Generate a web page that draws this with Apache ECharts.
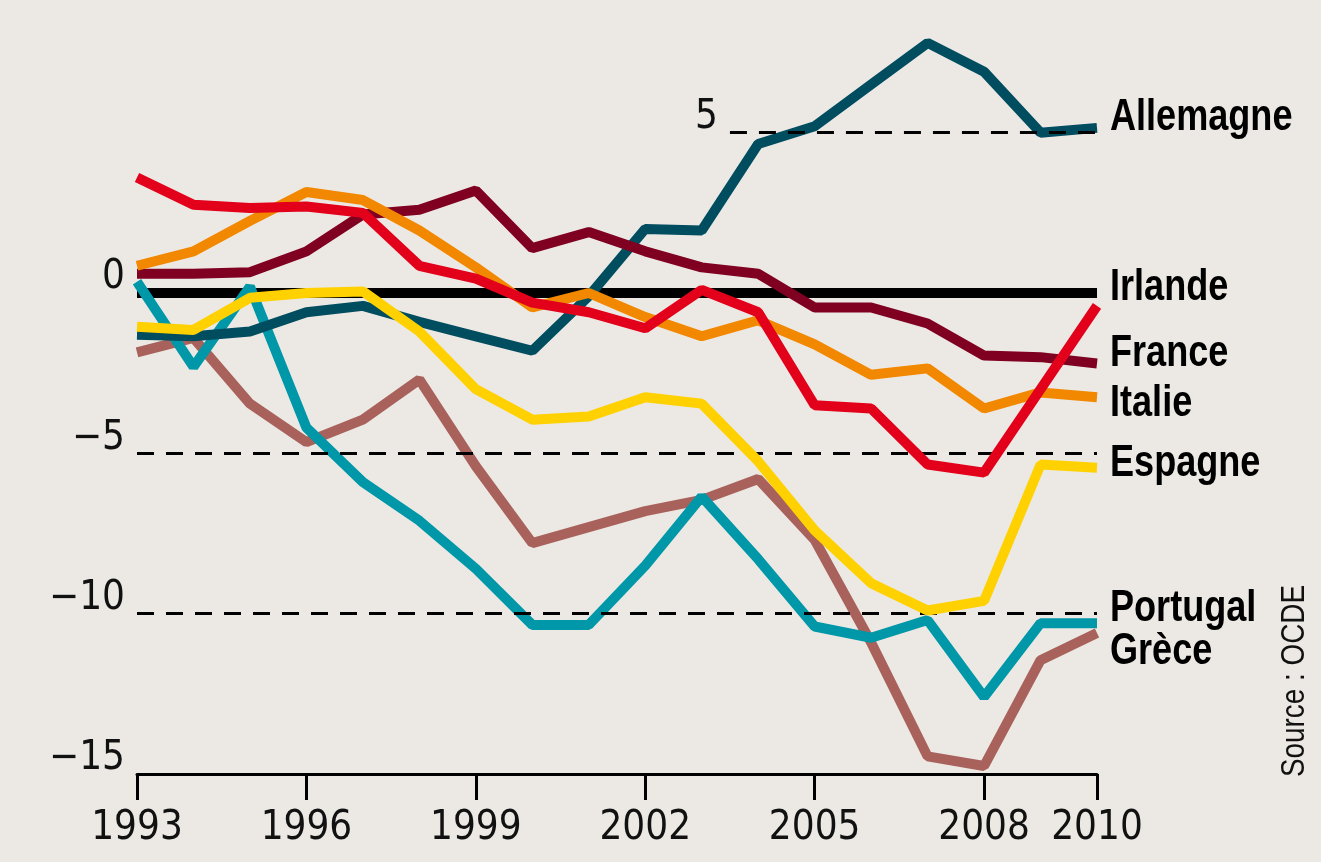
<!DOCTYPE html>
<html>
<head>
<meta charset="utf-8">
<title>Balance courante</title>
<script src="https://cdn.jsdelivr.net/npm/echarts@6/dist/echarts.min.js"></script>
<style>
  html, body { margin: 0; padding: 0; background: #ece9e4; }
  #chart { width: 1321px; height: 862px; }
</style>
</head>
<body>
<div id="chart"></div>
<script>
var years = [1993, 1994, 1995, 1996, 1997, 1998, 1999, 2000, 2001, 2002, 2003, 2004, 2005, 2006, 2007, 2008, 2009, 2010];

// solde courant, en % du PIB
var allemagne = [-1.3, -1.35, -1.2, -0.6, -0.4, -0.9, -1.35, -1.8, -0.1, 2.0, 1.95, 4.65, 5.2, 6.5, 7.8, 6.9, 5.0, 5.15];
var irlande   = [3.6, 2.75, 2.65, 2.7, 2.5, 0.85, 0.45, -0.3, -0.6, -1.1, 0.1, -0.6, -3.5, -3.6, -5.35, -5.6, -3.0, -0.4];
var france    = [0.6, 0.6, 0.65, 1.3, 2.45, 2.6, 3.2, 1.4, 1.9, 1.3, 0.8, 0.6, -0.45, -0.45, -0.95, -1.95, -2.0, -2.2];
var italie    = [0.85, 1.3, 2.25, 3.15, 2.9, 1.95, 0.8, -0.45, 0.0, -0.75, -1.35, -0.85, -1.6, -2.55, -2.35, -3.6, -3.1, -3.25];
var espagne   = [-1.05, -1.15, -0.15, 0.0, 0.05, -1.2, -3.0, -3.95, -3.85, -3.25, -3.45, -5.25, -7.4, -9.05, -9.9, -9.6, -5.35, -5.45];
var portugal  = [0.35, -2.3, 0.2, -4.2, -5.9, -7.1, -8.6, -10.35, -10.35, -8.5, -6.35, -8.3, -10.4, -10.75, -10.2, -12.6, -10.3, -10.3];
var grece     = [-1.85, -1.4, -3.45, -4.65, -3.95, -2.7, -5.4, -7.8, -7.3, -6.8, -6.45, -5.8, -7.7, -10.9, -14.45, -14.75, -11.45, -10.6];

var zero = [0, 0, 0, 0, 0, 0, 0, 0, 0, 0, 0, 0, 0, 0, 0, 0, 0, 0];
var tickYears = [1993, 1996, 1999, 2002, 2005, 2008, 2010];

var cond = "'DejaVu Sans Condensed', 'Liberation Sans Narrow', sans-serif";
var sans = "'Liberation Sans', Arial, sans-serif";

// libellés en bout de courbe : [nom, série, décalage vertical]
var labels = [
	['Allemagne', allemagne, -10],
	['Irlande', irlande, -18],
	['France', france, -10],
	['Italie', italie, 7],
	['Espagne', espagne, -4],
	['Portugal', portugal, -14],
	['Grèce', grece, 19]
];

function pairs(vals) {
	var arr = [];
	for (var i = 0; i < years.length; i++) {
		arr.push([years[i], vals[i]]);
	}
	return arr;
}

function country(name, vals, color, z) {
	return {
		name: name,
		type: 'line',
		data: pairs(vals),
		symbol: 'none',
		z: z,
		lineStyle: { color: color, width: 10 }
	};
}

var dash = { color: '#000', width: 3, type: [17, 12] };

var chart = echarts.init(document.getElementById('chart'));

chart.setOption({
	animation: false,
	backgroundColor: '#ece9e4',
	grid: { left: 137, right: 224, top: 36.5, bottom: 88 },
	xAxis: {
		type: 'value',
		min: 1993,
		max: 2010,
		interval: 3,
		splitLine: { show: false },
		axisLine: { show: true, onZero: false, lineStyle: { color: '#000', width: 3 } },
		axisTick: { show: true, length: 26, lineStyle: { color: '#000', width: 3 } },
		axisLabel: {
			margin: 35,
			fontFamily: cond,
			fontSize: 40,
			color: '#111',
			showMaxLabel: true,
			formatter: function(v) { return tickYears.indexOf(v) >= 0 ? String(v) : ''; }
		}
	},
	yAxis: {
		type: 'value',
		min: -15,
		max: 8,
		interval: 5,
		splitLine: { show: false },
		axisLine: { show: false },
		axisTick: { show: false },
		axisLabel: {
			margin: 12,
			fontFamily: cond,
			fontSize: 40,
			color: '#111',
			verticalAlign: 'bottom',
			lineHeight: 30,
			formatter: function(v) {
				if (v > 0) return '';
				return v < 0 ? '\u2212' + (-v) : '0';
			}
		}
	},
	graphic: [{
		id: 'source',
		type: 'text',
		x: 1295,
		y: 681,
		rotation: Math.PI / 2,
		scaleX: 0.82,
		style: {
			text: 'Source : OCDE',
			font: '34px ' + sans,
			fill: '#111',
			align: 'center',
			verticalAlign: 'middle'
		}
	}],
	series: [
		{
			// ligne du zéro + repères pointillés
			name: 'zero',
			type: 'line',
			data: pairs(zero),
			symbol: 'none',
			z: 1,
			lineStyle: { color: '#000', width: 10 },
			markLine: {
				silent: true,
				symbol: ['none', 'none'],
				label: { show: false },
				lineStyle: dash,
				data: [
					[{ coord: [1993, -5] }, { coord: [2010, -5] }],
					[{ coord: [1993, -10] }, { coord: [2010, -10] }],
					[{
						coord: [2003.5, 5],
						label: {
							show: true,
							position: 'start',
							formatter: '5',
							distance: 12,
							verticalAlign: 'bottom',
							lineHeight: 30,
							fontFamily: cond,
							fontSize: 40,
							color: '#111'
						}
					}, { coord: [2010, 5] }]
				]
			}
		},
		country('Grèce', grece, '#a8625b', 2),
		country('Portugal', portugal, '#0098a8', 3),
		country('Allemagne', allemagne, '#004d60', 4),
		country('France', france, '#800022', 5),
		country('Espagne', espagne, '#ffd100', 6),
		country('Italie', italie, '#f28700', 7),
		country('Irlande', irlande, '#e2001a', 8)
	]
});

// noms des pays, placés d'après le dernier point de chaque courbe
var texts = [];
labels.forEach(function(l, i) {
	var last = l[1].length - 1;
	var p = chart.convertToPixel({ xAxisIndex: 0, yAxisIndex: 0 }, [years[last], l[1][last]]);
	texts.push({
		id: 'lbl' + i,
		type: 'text',
		x: p[0] + 13,
		y: p[1] + l[2],
		scaleX: 0.82,
		z: 20,
		style: {
			text: l[0],
			font: 'bold 44px ' + sans,
			fill: '#000',
			align: 'left',
			verticalAlign: 'middle'
		}
	});
});
chart.setOption({ graphic: texts });
</script>
</body>
</html>
